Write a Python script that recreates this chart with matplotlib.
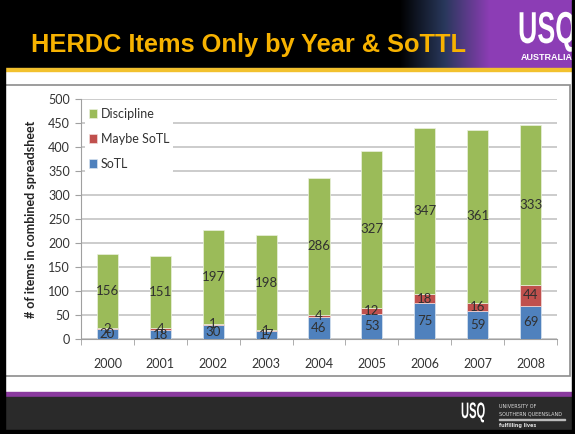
import numpy as np
import matplotlib.pyplot as plt
from matplotlib.patches import Rectangle, PathPatch
from matplotlib.textpath import TextPath
from matplotlib.font_manager import FontProperties
from matplotlib.transforms import Affine2D

# datos
years = ["2000", "2001", "2002", "2003", "2004", "2005", "2006", "2007", "2008"]
sotl = [20, 18, 30, 17, 46, 53, 75, 59, 69]
maybe_sotl = [2, 4, 1, 1, 4, 12, 18, 16, 44]
discipline = [156, 151, 197, 198, 286, 327, 347, 361, 333]
yticks = [0, 50, 100, 150, 200, 250, 300, 350, 400, 450, 500]

W, H = 575, 434
fig = plt.figure(figsize=(W / 100, H / 100), dpi=100)
fig.patch.set_facecolor("white")


def fx(px):
    return px / W


def fy(py):
    return 1 - py / H


def logo(texto, x0, y_base, alto_cap, sx):
    # texto estrecho (tipo logo) dibujado como trazado
    tp = TextPath((0, 0), texto, size=100, prop=FontProperties(family="Liberation Sans", weight="bold"))
    k = alto_cap / 71.6
    tr = Affine2D().scale(k * sx, k).translate(x0, H - y_base).scale(1 / W, 1 / H) + fig.transFigure
    fig.patches.append(PathPatch(tp, transform=tr, color="white", lw=0, zorder=5))


# cabecera negra con degradado a morado
hdr = fig.add_axes([0, fy(68), 1, 68 / H])
hdr.set_axis_off()
x = np.linspace(0, W, 575)
t = np.clip((x - 400) / 90, 0, 1)[:, None]
dark = np.array([0.0, 0.0, 0.0])
mid = np.array([0.16, 0.22, 0.36])
purple = np.array([0.55, 0.24, 0.71])
cols = np.where(t < 0.5, dark + (mid - dark) * (t / 0.5), mid + (purple - mid) * ((t - 0.5) / 0.5))
hdr.imshow(np.stack([cols, cols]), aspect="auto", extent=[0, 1, 0, 1])
hdr.set_xlim(0, 1)
hdr.set_ylim(0, 1)
fig.patches.append(Rectangle((0, fy(71)), 1, 3 / H, transform=fig.transFigure,
                             color="#f2c12e", zorder=2))
fig.text(fx(31), fy(45), "HERDC Items Only by Year & SoTTL", family="Liberation Sans",
         weight="bold", size=18.3, color="#f7b200", va="center")
logo("USQ", 518, 43, 32, 0.6)
fig.text(fx(547), fy(58), "AUSTRALIA", family="Liberation Sans", weight="bold", size=6.5,
         color="white", va="center", ha="center")

# bordes negros laterales
fig.patches.append(Rectangle((0, 0), fx(5), 1, transform=fig.transFigure, color="black", zorder=3))
fig.patches.append(Rectangle((fx(572), 0), fx(3), 1, transform=fig.transFigure, color="black", zorder=6))

# marco del grafico
fig.patches.append(Rectangle((fx(5), fy(376)), fx(565), (376 - 85) / H, transform=fig.transFigure,
                             fill=False, edgecolor="#8c8c8c", lw=1.2, zorder=1))

# pie de pagina
fig.patches.append(Rectangle((0, fy(397)), 1, 5 / H, transform=fig.transFigure,
                             color="#8a3a9e", zorder=2))
fig.patches.append(Rectangle((0, 0), 1, fy(397), transform=fig.transFigure,
                             color="#2a2a2a", zorder=2))
fig.patches.append(Rectangle((0, 0), 1, 4 / H, transform=fig.transFigure,
                             color="black", zorder=2))
logo("USQ", 461, 418, 16, 0.5)
fig.text(fx(499), fy(406), "UNIVERSITY OF", family="DejaVu Sans", size=3.5,
         color="#dddddd", va="center", zorder=4)
fig.text(fx(499), fy(414), "SOUTHERN QUEENSLAND", family="DejaVu Sans", size=3.5,
         color="#dddddd", va="center", zorder=4)
fig.patches.append(Rectangle((fx(499), fy(420)), fx(66), 1 / H, transform=fig.transFigure,
                             color="#bbbbbb", zorder=4))
fig.text(fx(499), fy(426), "fulfilling lives", family="DejaVu Sans", weight="bold", size=3.5,
         color="#dddddd", va="center", zorder=4)

# grafico de barras apiladas
ax = fig.add_axes([fx(81), fy(339), fx(557 - 81), (339 - 99) / H])
pos = np.arange(len(years))
bottom2 = np.array(sotl)
bottom3 = bottom2 + np.array(maybe_sotl)
b1 = ax.bar(pos, sotl, 0.4, color="#4f81bd", edgecolor="#dbe5f1", lw=0.5, label="SoTL", zorder=3)
b2 = ax.bar(pos, maybe_sotl, 0.4, bottom=bottom2, color="#c0504d", edgecolor="#f2dcdb", lw=0.5,
            label="Maybe SoTL", zorder=3)
b3 = ax.bar(pos, discipline, 0.4, bottom=bottom3, color="#9bbb59", edgecolor="#ebf1de", lw=0.5,
            label="Discipline", zorder=3)
for bars in (b1, b2, b3):
    ax.bar_label(bars, label_type="center", family="Lato", size=9.5, color="#303030", zorder=4)

ax.set_xlim(-0.5, len(years) - 0.5)
ax.set_ylim(0, 500)
ax.set_yticks(yticks)
ax.set_xticks(pos)
ax.set_xticklabels(years)
ax.set_xticks(np.arange(-0.5, len(years)), minor=True)
ax.tick_params(axis="x", which="major", length=0, pad=14, labelsize=9, labelcolor="#333333")
ax.tick_params(axis="x", which="minor", length=4, color="#a0a0a0")
ax.tick_params(axis="y", length=4, color="#a0a0a0", labelsize=9, labelcolor="#333333", pad=4)
for lab in ax.get_xticklabels() + ax.get_yticklabels():
    lab.set_family("Lato")
ax.grid(axis="y", color="#c4c4c4", lw=1.2, zorder=0)
for s in ("top", "right"):
    ax.spines[s].set_visible(False)
for s in ("left", "bottom"):
    ax.spines[s].set_color("#a0a0a0")
ax.set_ylabel("# of items in combined spreadsheet", family="Lato", weight="bold", size=9,
              color="#222222", labelpad=8)

handles = [b3, b2, b1]
leg = ax.legend(handles, [h.get_label() for h in handles], loc="upper left",
                bbox_to_anchor=(0.0, 0.995), prop={"family": "Lato", "size": 9},
                handlelength=0.7, handleheight=0.7, handletextpad=0.3, labelspacing=1.05,
                frameon=True, framealpha=1, edgecolor="none", facecolor="white",
                borderpad=0.3, borderaxespad=0.3)
for txt in leg.get_texts():
    txt.set_color("#333333")

fig.savefig("out.png", dpi=100)
